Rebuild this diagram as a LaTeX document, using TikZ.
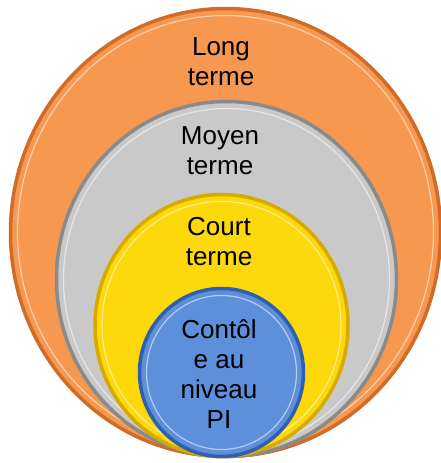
\documentclass[tikz,border=0pt]{standalone}
\usepackage{tikz}
\usepackage{fontspec}
\setmainfont{Liberation Sans}
\usepackage{xcolor}
\definecolor{longfill}{HTML}{F79850}
\definecolor{longrim}{HTML}{D06C28}
\definecolor{moyenfill}{HTML}{C9C9C9}
\definecolor{moyenrim}{HTML}{8A8A8A}
\definecolor{courtfill}{HTML}{FDD80A}
\definecolor{courtrim}{HTML}{D6AA00}
\definecolor{pifill}{HTML}{5D8FDB}
\definecolor{pirim}{HTML}{2F5FAE}
\tikzstyle{disc} = [line width=3.5pt]
\tikzstyle{shine} = [line width=1.2pt, white, opacity=0.55]
\tikzstyle{ringtext} = [align=center, text=black, inner sep=0pt,
    font=\fontsize{26}{30}\selectfont]

\begin{document}
\begin{tikzpicture}[x=1pt,y=1pt]
\useasboundingbox (0,0) rectangle (440,463);
% long terme
\filldraw[disc, fill=longfill, draw=longrim] (225.5,230.5) ellipse [x radius=215pt, y radius=224pt];
\draw[shine] (225.5,230.5) ellipse [x radius=208pt, y radius=217pt];
% moyen terme
\filldraw[disc, fill=moyenfill, draw=moyenrim] (226.5,184) ellipse [x radius=170pt, y radius=177.5pt];
\draw[shine] (226.5,184) ellipse [x radius=163pt, y radius=170.5pt];
% court terme
\filldraw[disc, fill=courtfill, draw=courtrim] (221.5,137.5) ellipse [x radius=126.5pt, y radius=131pt];
\draw[shine] (221.5,137.5) ellipse [x radius=119.5pt, y radius=124pt];
% niveau PI
\filldraw[disc, fill=pifill, draw=pirim] (221.5,90.5) ellipse [x radius=82pt, y radius=84pt];
\draw[shine] (221.5,90.5) ellipse [x radius=75pt, y radius=77pt];

\node[ringtext] (long) at (221,401) {Long\\terme};
\node[ringtext] (moyen) at (220,312) {Moyen\\terme};
\node[ringtext] (court) at (219,221) {Court\\terme};
\node[ringtext] (pi) at (219,89) {Contôl\\e au\\niveau\\PI};
\end{tikzpicture}
\end{document}
